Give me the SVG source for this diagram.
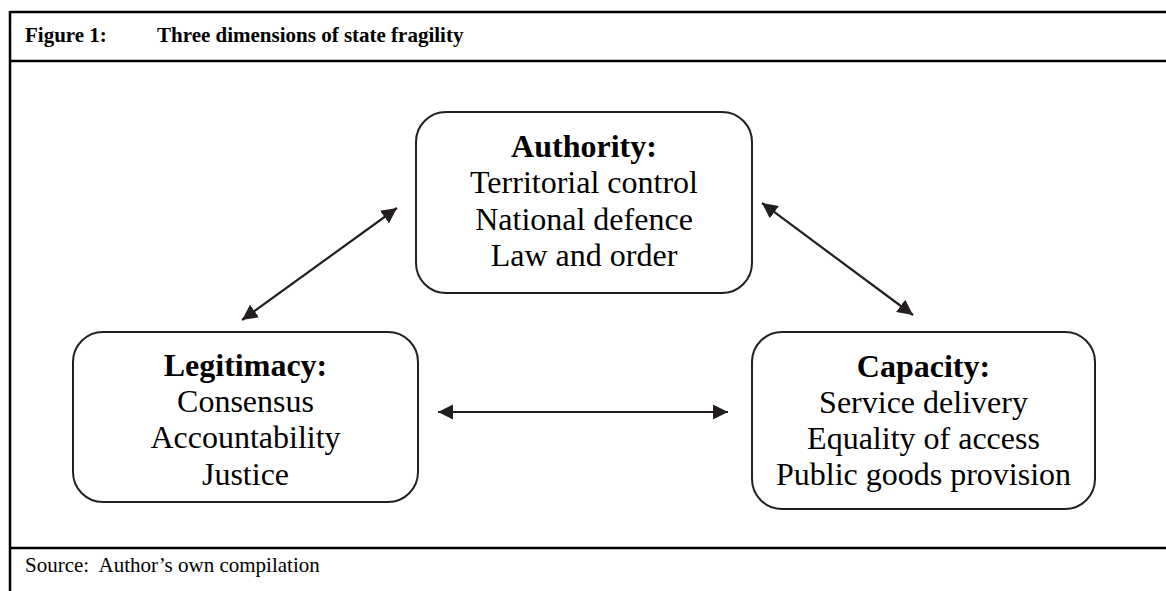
<svg xmlns="http://www.w3.org/2000/svg" width="1166" height="591" viewBox="0 0 1166 591">
<style>
.frame{stroke:#000;stroke-width:2.5;fill:none}
.box{fill:#fff;stroke:#231f20;stroke-width:2}
.t{font-family:"Liberation Serif","Times New Roman",serif;fill:#000}
.node{font-size:32px;text-anchor:middle}
.b{font-weight:bold}
.hdr{font-size:21px}
.conn line{stroke:#231f20;stroke-width:2.2;marker-start:url(#ah);marker-end:url(#ah)}
</style>
<defs>
<marker id="ah" viewBox="0 0 10 10" refX="10" refY="5" markerWidth="7" markerHeight="7" orient="auto-start-reverse" markerUnits="strokeWidth">
<path d="M0,0 L10,5 L0,10 z" fill="#231f20"/>
</marker>
</defs>
<rect width="1166" height="591" fill="#fff"/>
<g id="frame">
<line class="frame" x1="10" y1="12" x2="1166" y2="12"/>
<line class="frame" x1="10" y1="61" x2="1166" y2="61"/>
<line class="frame" x1="10" y1="548" x2="1166" y2="548"/>
<line class="frame" x1="10" y1="11" x2="10" y2="591"/>
<text class="t hdr b" x="25" y="42">Figure 1:</text>
<text class="t hdr b" x="157" y="42">Three dimensions of state fragility</text>
<text class="t hdr" x="25" y="572" xml:space="preserve">Source:  Author’s own compilation</text>
</g>
<g class="conn" id="connectors">
<line x1="397" y1="208" x2="242" y2="320"/>
<line x1="762" y1="203" x2="913" y2="315"/>
<line x1="438" y1="412" x2="728" y2="412"/>
</g>
<g id="authority">
<rect class="box" x="416" y="112" width="336" height="181" rx="30"/>
<text class="t node b" x="584" y="157">Authority:</text>
<text class="t node" x="584" y="193">Territorial control</text>
<text class="t node" x="584" y="230">National defence</text>
<text class="t node" x="584" y="266">Law and order</text>
</g>
<g id="legitimacy">
<rect class="box" x="73" y="332" width="345" height="170" rx="30"/>
<text class="t node b" x="245.5" y="376">Legitimacy:</text>
<text class="t node" x="245.5" y="412">Consensus</text>
<text class="t node" x="245.5" y="448">Accountability</text>
<text class="t node" x="245.5" y="485">Justice</text>
</g>
<g id="capacity">
<rect class="box" x="752" y="332" width="343" height="177" rx="30"/>
<text class="t node b" x="923.5" y="377">Capacity:</text>
<text class="t node" x="923.5" y="413">Service delivery</text>
<text class="t node" x="923.5" y="449">Equality of access</text>
<text class="t node" x="923.5" y="485">Public goods provision</text>
</g>
</svg>
